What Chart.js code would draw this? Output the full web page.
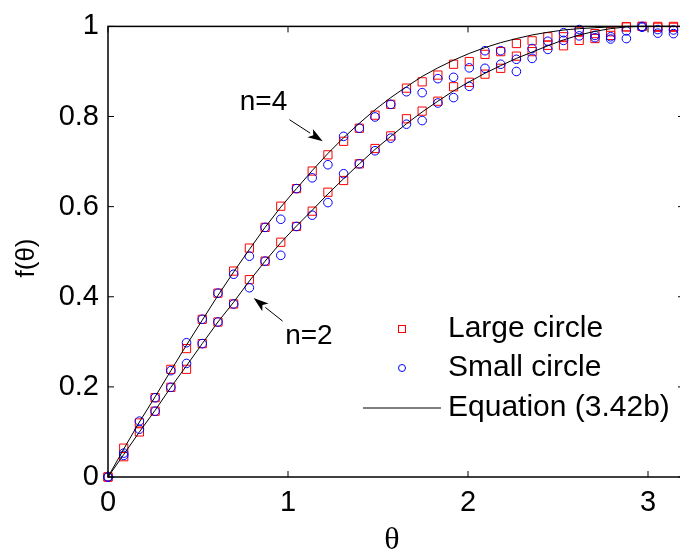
<!DOCTYPE html>
<html>
<head>
<meta charset="utf-8">
<script src="https://cdn.jsdelivr.net/npm/chart.js@4.4.1/dist/chart.umd.min.js"></script>
<style>
  html, body { margin: 0; padding: 0; background: #fff; overflow: hidden; }
  #wrap { width: 690px; height: 557px; }
</style>
</head>
<body>
<div id="wrap"><canvas id="fChart" width="690" height="557"></canvas></div>
<script>
// theta in 5 degree steps (radians)
var theta = [0, 0.0873, 0.1745, 0.2618, 0.3491, 0.4363, 0.5236, 0.6109, 0.6981, 0.7854,
  0.8727, 0.9599, 1.0472, 1.1345, 1.2217, 1.3090, 1.3963, 1.4835, 1.5708, 1.6581,
  1.7453, 1.8326, 1.9199, 2.0071, 2.0944, 2.1817, 2.2689, 2.3562, 2.4435, 2.5307,
  2.6180, 2.7053, 2.7925, 2.8798, 2.9671, 3.0543, 3.1416];

// Equation (3.42b)
var eqN4 = [0, 0.062, 0.122, 0.178, 0.236, 0.293, 0.348, 0.403, 0.455, 0.505,
  0.554, 0.599, 0.640, 0.680, 0.718, 0.753, 0.785, 0.815, 0.842, 0.866,
  0.889, 0.908, 0.925, 0.940, 0.953, 0.964, 0.973, 0.981, 0.987, 0.992,
  0.995, 0.997, 0.999, 1.0, 1.0, 1.0, 1.0];
var eqN2 = [0, 0.050, 0.100, 0.148, 0.199, 0.247, 0.296, 0.344, 0.388, 0.435,
  0.479, 0.520, 0.557, 0.592, 0.628, 0.662, 0.695, 0.727, 0.756, 0.784,
  0.810, 0.834, 0.857, 0.877, 0.896, 0.913, 0.929, 0.943, 0.957, 0.970,
  0.981, 0.989, 0.995, 0.999, 1.0, 1.0, 1.0];

// Large circle (squares)
var largeN4 = [0, 0.064, 0.120, 0.176, 0.239, 0.285, 0.350, 0.408, 0.457, 0.508,
  0.554, 0.601, 0.640, 0.679, 0.715, 0.745, 0.774, 0.803, 0.827, 0.863,
  0.877, 0.892, 0.916, 0.922, 0.938, 0.944, 0.962, 0.968, 0.977, 0.977,
  0.989, 0.984, 0.988, 0.999, 1.0, 1.0, 1.0];
var largeN2 = [0, 0.045, 0.100, 0.146, 0.199, 0.239, 0.296, 0.344, 0.384, 0.438,
  0.479, 0.521, 0.556, 0.590, 0.632, 0.658, 0.695, 0.729, 0.757, 0.795,
  0.812, 0.834, 0.866, 0.876, 0.894, 0.907, 0.934, 0.944, 0.958, 0.957,
  0.969, 0.973, 0.980, 0.999, 1.0, 0.998, 0.998];

// Small circle (circles)
var smallN4 = [0, 0.053, 0.124, 0.176, 0.236, 0.298, 0.350, 0.408, 0.450, 0.490,
  0.554, 0.572, 0.640, 0.664, 0.693, 0.756, 0.774, 0.799, 0.827, 0.855,
  0.853, 0.884, 0.887, 0.908, 0.946, 0.946, 0.927, 0.951, 0.967, 0.986,
  0.993, 0.980, 0.977, 0.990, 1.0, 0.993, 0.992];
var smallN2 = [0, 0.048, 0.106, 0.146, 0.199, 0.252, 0.296, 0.344, 0.384, 0.420,
  0.479, 0.492, 0.556, 0.581, 0.609, 0.673, 0.695, 0.724, 0.752, 0.783,
  0.791, 0.830, 0.842, 0.867, 0.907, 0.916, 0.900, 0.929, 0.949, 0.969,
  0.979, 0.975, 0.972, 0.973, 0.998, 0.985, 0.984];

var legendLabels = ['Large circle', 'Small circle', 'Equation (3.42b)'];

function pts(ys) {
  return ys.map(function (y, i) { return { x: theta[i], y: y }; });
}

var FONT = '"Liberation Sans", Arial, sans-serif';

function lineSet(label, ys) {
  return { label: label, data: pts(ys), showLine: true, borderColor: '#000', borderWidth: 1,
    pointRadius: 0, fill: false, clip: false, order: 0 };
}
function squareSet(label, ys) {
  return { label: label, data: pts(ys), showLine: false, pointStyle: 'rect', pointRadius: 5.8,
    borderColor: '#ff0000', backgroundColor: 'rgba(0,0,0,0)', pointBorderWidth: 1, clip: false, order: 2 };
}
function circleSet(label, ys) {
  return { label: label, data: pts(ys), showLine: false, pointStyle: 'circle', pointRadius: 4.3,
    borderColor: '#0000ff', backgroundColor: 'rgba(0,0,0,0)', pointBorderWidth: 1, clip: false, order: 1 };
}

function arrow(ctx, x1, y1, x2, y2) {
  var a = Math.atan2(y2 - y1, x2 - x1);
  var len = 15, w = 5;
  ctx.beginPath();
  ctx.moveTo(x1, y1);
  ctx.lineTo(x2 - len * Math.cos(a), y2 - len * Math.sin(a));
  ctx.lineWidth = 1;
  ctx.strokeStyle = '#000';
  ctx.stroke();
  ctx.beginPath();
  ctx.moveTo(x2, y2);
  ctx.lineTo(x2 - len * Math.cos(a) + w * Math.sin(a), y2 - len * Math.sin(a) - w * Math.cos(a));
  ctx.lineTo(x2 - len * 0.75 * Math.cos(a), y2 - len * 0.75 * Math.sin(a));
  ctx.lineTo(x2 - len * Math.cos(a) - w * Math.sin(a), y2 - len * Math.sin(a) + w * Math.cos(a));
  ctx.closePath();
  ctx.fillStyle = '#000';
  ctx.fill();
}

var boxPlugin = {
  id: 'boxPlugin',
  afterDatasetsDraw: function (chart) {
    var ctx = chart.ctx, a = chart.chartArea;
    var xs = chart.scales.x, ys = chart.scales.y;
    ctx.save();
    ctx.strokeStyle = '#000';
    ctx.lineWidth = 1.5;
    ctx.strokeRect(a.left, a.top, a.right - a.left, a.bottom - a.top);
    ctx.lineWidth = 1;
    ctx.beginPath();
    xs.ticks.forEach(function (t) {
      var px = xs.getPixelForValue(t.value);
      ctx.moveTo(px, a.bottom); ctx.lineTo(px, a.bottom - 6);
      ctx.moveTo(px, a.top); ctx.lineTo(px, a.top + 6);
    });
    ys.ticks.forEach(function (t) {
      var py = ys.getPixelForValue(t.value);
      ctx.moveTo(a.left, py); ctx.lineTo(a.left + 6, py);
      ctx.moveTo(a.right, py); ctx.lineTo(a.right - 6, py);
    });
    ctx.stroke();
    ctx.restore();
  },
  afterDraw: function (chart) {
    var ctx = chart.ctx, a = chart.chartArea;
    var xs = chart.scales.x, ys = chart.scales.y;
    ctx.save();
    ctx.fillStyle = '#000';
    // annotations in data coordinates
    ctx.font = '28px ' + FONT;
    ctx.textAlign = 'center';
    ctx.textBaseline = 'middle';
    ctx.fillText('n=4', xs.getPixelForValue(0.864), ys.getPixelForValue(0.831));
    ctx.fillText('n=2', xs.getPixelForValue(1.116), ys.getPixelForValue(0.313));
    arrow(ctx, xs.getPixelForValue(1.008), ys.getPixelForValue(0.793),
      xs.getPixelForValue(1.193), ys.getPixelForValue(0.745));
    arrow(ctx, xs.getPixelForValue(0.970), ys.getPixelForValue(0.346),
      xs.getPixelForValue(0.809), ys.getPixelForValue(0.397));

    // legend
    var lx = 402, ly = [329, 368, 408], tx = 448;
    ctx.lineWidth = 1;
    ctx.strokeStyle = '#ff0000';
    ctx.strokeRect(lx - 3.5, ly[0] - 3.5, 7, 7);
    ctx.strokeStyle = '#0000ff';
    ctx.beginPath(); ctx.arc(lx, ly[1], 3.5, 0, Math.PI * 2); ctx.stroke();
    ctx.strokeStyle = '#000';
    ctx.beginPath(); ctx.moveTo(363, ly[2]); ctx.lineTo(441, ly[2]); ctx.stroke();
    ctx.font = '30px ' + FONT;
    ctx.textAlign = 'left';
    legendLabels.forEach(function (s, i) { ctx.fillText(s, tx, ly[i]); });

    // axis titles
    ctx.textAlign = 'center';
    ctx.font = '32px "Liberation Serif", serif';
    ctx.fillText('\u03b8', (a.left + 680) / 2 - 2, 541);
    ctx.translate(27, 258);
    ctx.rotate(-Math.PI / 2);
    ctx.font = '26px ' + FONT;
    ctx.fillText('f(\u03b8)', 0, 0);
    ctx.restore();
  }
};

function tickText(v) { return String(Math.round(v * 10) / 10); }

var myChart = new Chart(document.getElementById('fChart').getContext('2d'), {
  type: 'scatter',
  data: {
    datasets: [
      lineSet('Equation n=4', eqN4),
      lineSet('Equation n=2', eqN2),
      circleSet('Small circle n=4', smallN4),
      circleSet('Small circle n=2', smallN2),
      squareSet('Large circle n=4', largeN4),
      squareSet('Large circle n=2', largeN2)
    ]
  },
  options: {
    responsive: false,
    animation: false,
    layout: { autoPadding: false, padding: { left: 0, top: 21, right: 6, bottom: 0 } },
    plugins: { legend: { display: false }, tooltip: { enabled: false } },
    scales: {
      x: {
        type: 'linear', min: 0, max: 3.2,
        grid: { display: false, drawTicks: false },
        border: { display: false },
        ticks: { stepSize: 1, includeBounds: false, padding: 9, color: '#000',
          font: { family: FONT, size: 29 }, callback: tickText },
        afterFit: function (s) { s.height = 80; }
      },
      y: {
        min: 0, max: 1,
        grid: { display: false, drawTicks: false },
        border: { display: false },
        ticks: { stepSize: 0.2, padding: 9, color: '#000',
          font: { family: FONT, size: 29 }, callback: tickText },
        afterFit: function (s) { s.width = 108; }
      }
    }
  },
  plugins: [boxPlugin]
});
</script>
</body>
</html>
